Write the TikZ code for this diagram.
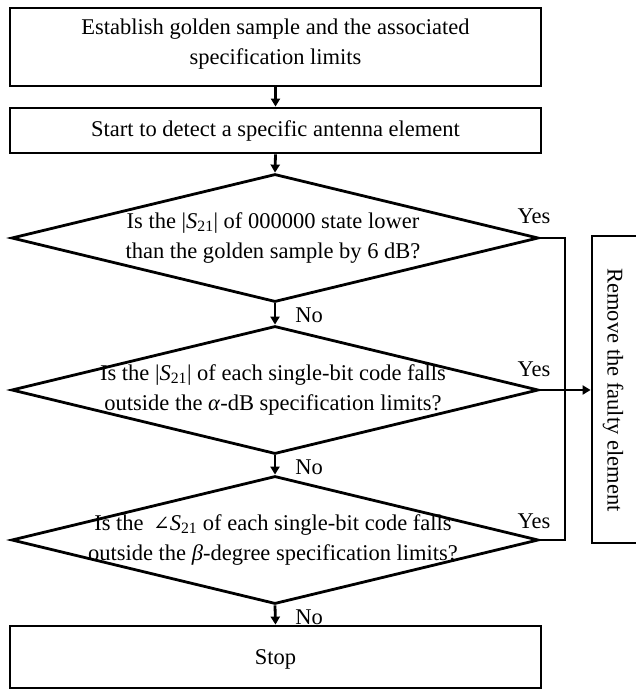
\documentclass[tikz,border=0pt]{standalone}
\usepackage{fontspec}
\setmainfont{Liberation Serif}
\newfontfamily\djv{DejaVu Serif}
\usetikzlibrary{shapes.geometric,arrows.meta}
\begin{document}
\begin{tikzpicture}[x=1pt,y=-1pt,
  every node/.style={font=\fontsize{22.5}{30}\selectfont, align=center},
  box/.style={draw, line width=2.8pt, minimum width=531pt, inner sep=0pt},
  dia/.style={draw, diamond, line width=2.8pt, minimum width=527pt, minimum height=128pt, inner sep=0pt},
  link/.style={line width=2.8pt},
  arr/.style={link, -{Triangle[length=8pt,width=9pt]}},
  lbl/.style={inner sep=0pt}]
\useasboundingbox (0,0) rectangle (636,690);

\node[box, minimum height=78pt] (b1) at (275.5,47) {};
\node[lbl] (t1) at (275.5,44) {Establish golden sample and the associated\\specification limits};
\node[box, minimum height=45pt] (b2) at (275.5,130.5) {};
\node[lbl] (t2) at (275.5,131) {Start to detect a specific antenna element};

\node[dia] (d1) at (275,238) {};
\node[lbl] (td1) at (273,238) {Is the |\textit{S}\textsubscript{21}| of 000000 state lower\\than the golden sample by 6 dB?};
\node[dia] (d2) at (275,390) {};
\node[lbl] (td2) at (273,390) {Is the |\textit{S}\textsubscript{21}| of each single-bit code falls\\outside the \textit{α}-dB specification limits?};
\node[dia] (d3) at (275,540) {};
\node[lbl] (td3) at (273,540) {Is the \,{\djv\fontsize{20}{30}\selectfont ∠}\textit{S}\textsubscript{21} of each single-bit code falls\\outside the \textit{β}-degree specification limits?};

\node[box, minimum height=62pt] (stop) at (275.5,657) {};
\node[lbl] (ts) at (275.5,659) {Stop};

\node[draw, line width=2.8pt, minimum width=100pt, minimum height=307pt, inner sep=0pt] (rm) at (642,389.5) {};
\node[lbl, rotate=-90] (trm) at (613,390) {Remove the faulty element};

\draw[arr] (b1.south) -- (b2.north);
\draw[arr] (b2.south) -- (d1.north);
\draw[arr] (d1.south) -- (d2.north);
\draw[arr] (d2.south) -- (d3.north);
\draw[arr] (d3.south) -- (stop.north);

\coordinate (j1) at (565,238);
\coordinate (j3) at (565,540);
\draw[link] (d1.east) -- (j1) -- (j3) -- (d3.east);
\draw[arr] (d2.east) -- (d2.east -| rm.west);

\node[lbl] (y1) at (534,216) {Yes};
\node[lbl] (y2) at (534,369) {Yes};
\node[lbl] (y3) at (534,521) {Yes};
\node[lbl] (n1) at (309,315) {No};
\node[lbl] (n2) at (309,467) {No};
\node[lbl] (n3) at (309,617) {No};
\end{tikzpicture}
\end{document}
